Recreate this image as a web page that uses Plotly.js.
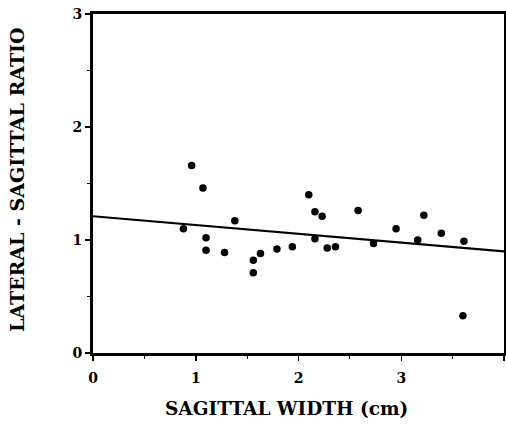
<!DOCTYPE html>
<html>
<head>
<meta charset="utf-8">
<script src="https://cdn.plot.ly/plotly-3.0.1.min.js"></script>
<style>html,body{margin:0;padding:0;background:#fff;}#chart{width:506px;height:429px;}</style>
</head>
<body>
<div id="chart"></div>
<script>
// Sagittal width (cm) and lateral/sagittal ratio
const sagittalWidth = [0.88, 0.96, 1.07, 1.10, 1.10, 1.28, 1.38, 1.56, 1.56, 1.63, 1.79, 1.94, 2.10, 2.16, 2.16, 2.23, 2.28, 2.36, 2.58, 2.73, 2.95, 3.16, 3.22, 3.39, 3.61, 3.60];
const lateralSagittalRatio = [1.10, 1.66, 1.46, 1.02, 0.91, 0.89, 1.17, 0.82, 0.71, 0.88, 0.92, 0.94, 1.40, 1.25, 1.01, 1.21, 0.93, 0.94, 1.26, 0.97, 1.10, 1.00, 1.22, 1.06, 0.99, 0.33];
// Regression line end points
const fitX = [0, 4];
const fitY = [1.21, 0.90];
const xTicks = [0, 1, 2, 3, 4];
const yTicks = [0, 1, 2, 3];

const fontFam = '"DejaVu Serif", "Liberation Serif", serif';
const traces = [
  {x: fitX, y: fitY, mode: 'lines', line: {color: '#000', width: 2.2}, hoverinfo: 'skip', showlegend: false},
  {x: sagittalWidth, y: lateralSagittalRatio, mode: 'markers', marker: {color: '#000', size: 7.5}, showlegend: false}
];
const axisCommon = {
  showgrid: false, zeroline: false, showline: true, linecolor: '#000', linewidth: 3, mirror: true,
  ticks: 'outside', ticklen: 5, tickwidth: 1.5, tickcolor: '#000',
  tickfont: {family: fontFam, size: 14, color: '#000', weight: 'bold'},
  minor: {dtick: 0.5, ticks: 'outside', ticklen: 3, tickwidth: 1, tickcolor: '#000'}
};
const layout = {
  width: 506, height: 429,
  margin: {l: 93, r: 2, t: 14, b: 76},
  paper_bgcolor: '#fff', plot_bgcolor: '#fff',
  xaxis: Object.assign({}, axisCommon, {range: [0, 4], tickvals: xTicks, ticktext: xTicks.map(String), ticklabelstandoff: 5}),
  yaxis: Object.assign({}, axisCommon, {range: [0, 3], tickvals: yTicks, ticktext: yTicks.map(String)}),
  annotations: [
    {text: 'LATERAL - SAGITTAL RATIO', xref: 'paper', yref: 'paper', x: 0, y: 0.51, xshift: -76, xanchor: 'center', yanchor: 'middle', textangle: -90, showarrow: false, font: {family: fontFam, size: 19, color: '#000', weight: 'bold'}},
    {text: 'SAGITTAL WIDTH (cm)', xref: 'paper', yref: 'paper', x: 0.472, y: 0, yshift: -55, xanchor: 'center', yanchor: 'middle', showarrow: false, font: {family: fontFam, size: 18.5, color: '#000', weight: 'bold'}}
  ]
};
Plotly.newPlot('chart', traces, layout, {displayModeBar: false, staticPlot: true});
</script>
</body>
</html>
